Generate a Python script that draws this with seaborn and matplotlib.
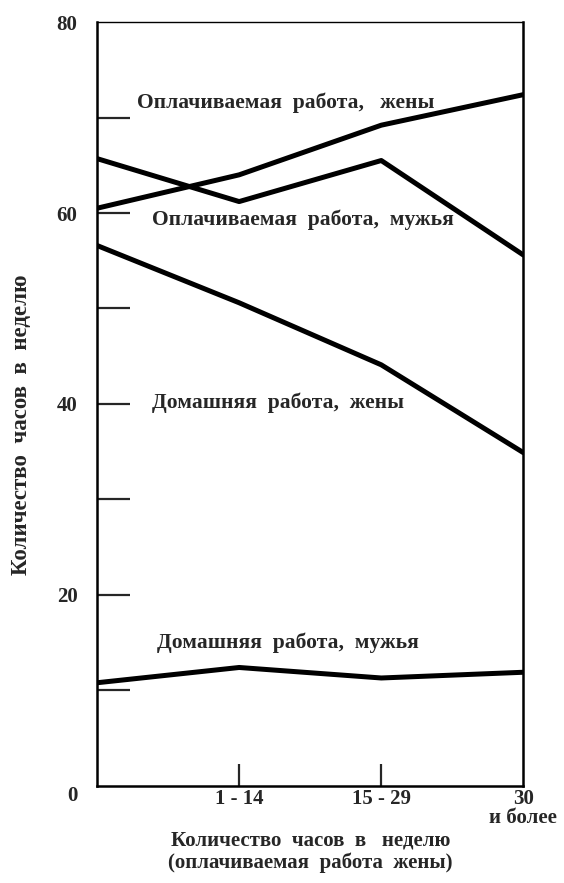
import pandas as pd
import seaborn as sns
import matplotlib.pyplot as plt

# categories on the x axis (wife's paid work, hours per week)
categories = ["0", "1 - 14", "15 - 29", "30\nи более"]

# hours per week
paid_wives = [60.5, 64.0, 69.2, 72.4]
paid_husbands = [65.7, 61.2, 65.5, 55.6]
home_wives = [56.6, 50.6, 44.1, 34.9]
home_husbands = [10.8, 12.4, 11.3, 11.9]

series_names = [
    "Оплачиваемая  работа,   жены",
    "Оплачиваемая  работа,  мужья",
    "Домашняя  работа,  жены",
    "Домашняя  работа,  мужья",
]

rows = []
for name, vals in zip(series_names, [paid_wives, paid_husbands, home_wives, home_husbands]):
    for cat, v in zip(categories, vals):
        rows.append({"cat": cat, "hours": v, "series": name})
df = pd.DataFrame(rows)

sns.set_style("white")
plt.rcParams["font.family"] = ["Liberation Serif", "DejaVu Serif"]

fig = plt.figure(figsize=(5.64, 8.83), dpi=100)
ax = fig.add_axes([0.172, 0.110, 0.756, 0.865])

sns.lineplot(data=df, x="cat", y="hours", hue="series",
             palette=["black"] * 4, linewidth=3.6, legend=False, ax=ax,
             sort=False)

ax.set_xlim(0, 3)
ax.set_ylim(0, 80)

# y axis: inward ticks every 10, labels every 20
ax.set_yticks([0, 10, 20, 30, 40, 50, 60, 70, 80])
ax.set_yticklabels(["0", "", "20", "", "40", "", "60", "", "80"],
                   fontsize=15, fontweight="bold")
ax.tick_params(axis="y", direction="in", length=24, width=1.6, pad=14, left=True)
ax.get_yticklabels()[0].set_va("top")
yt = ax.yaxis.get_major_ticks()
yt[0].tick1line.set_visible(False)
yt[-1].tick1line.set_visible(False)

# x axis: short inward ticks at the middle categories
ax.set_xticks([0, 1, 2, 3])
ax.set_xticklabels(["", "1 - 14", "15 - 29", "30\nи более"], fontsize=15,
                   fontweight="bold", linespacing=0.95)
ax.tick_params(axis="x", direction="in", length=16, width=1.6, pad=2, bottom=True)
xt = ax.xaxis.get_major_ticks()
xt[0].tick1line.set_visible(False)
xt[-1].tick1line.set_visible(False)

for side in ["left", "bottom", "right"]:
    ax.spines[side].set_linewidth(1.8)
    ax.spines[side].set_color("black")
ax.spines["top"].set_linewidth(1.0)
ax.spines["top"].set_color("black")

# series labels
ax.text(0.28, 71.5, series_names[0], fontsize=15.5, fontweight="bold", va="center")
ax.text(0.387, 59.3, series_names[1], fontsize=15.5, fontweight="bold", va="center")
ax.text(0.387, 40.1, series_names[2], fontsize=15.5, fontweight="bold", va="center")
ax.text(0.423, 15.0, series_names[3], fontsize=15.5, fontweight="bold", va="center")

ax.set_xlabel("")
ax.set_ylabel("")
fig.text(0.038, 1 - 425 / 883, "Количество  часов  в  неделю", rotation=90,
         ha="center", va="center", fontsize=16.5, fontweight="bold")
fig.text(0.55, 1 - 852 / 883, "Количество  часов  в   неделю\n(оплачиваемая  работа  жены)",
         ha="center", va="center", fontsize=15, fontweight="bold", linespacing=1.15)

fig.savefig("out.png", dpi=100)
